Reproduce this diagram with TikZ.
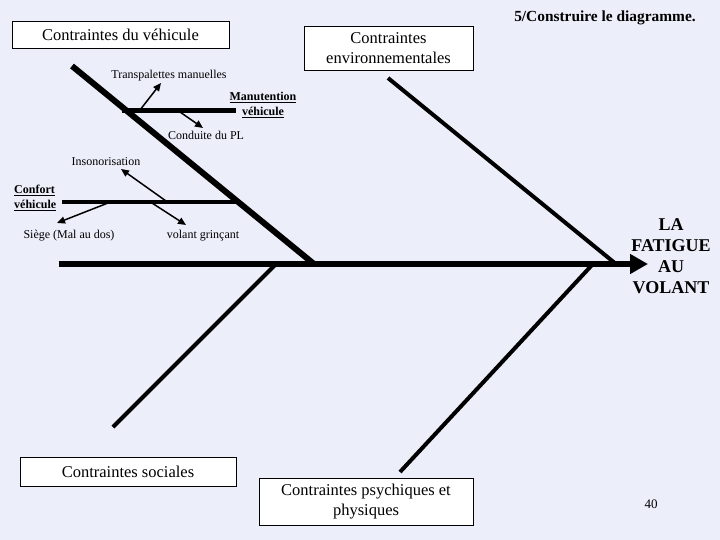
\documentclass[tikz,border=0pt]{standalone}
\usepackage{fontspec}
\setmainfont{Liberation Serif}
\usetikzlibrary{arrows.meta,positioning}
\definecolor{slidebg}{RGB}{236,238,250}
\newcommand{\ul}[1]{\underline{\textbf{#1}}}

\begin{document}
\begin{tikzpicture}[x=1pt,y=-1pt,
    every node/.style={font=\fontsize{12}{15}\selectfont,inner sep=0pt},
    catbox/.style={draw,fill=white,line width=0.8pt,align=center,font=\fontsize{16.5}{20}\selectfont},
    bone/.style={line width=4pt},
    cause/.style={-{Triangle[length=8pt,width=7pt]},line width=1.5pt}]
        \useasboundingbox[fill=slidebg] (0,0) rectangle (720,540);
        % categories
        \node[catbox,minimum width=217pt,minimum height=27pt] (vehic) at (120.5,34.5) {Contraintes du véhicule};
        \node[catbox,minimum width=169pt,minimum height=44pt] (envir) at (388.5,48) {Contraintes\\environnementales};
        \node[catbox,minimum width=216pt,minimum height=29pt] (socia) at (128,471.5) {Contraintes sociales};
        \node[catbox,minimum width=214pt,minimum height=47pt] (psych) at (366,501.5) {Contraintes psychiques et\\physiques};
        \node[font=\bfseries\fontsize{15.4}{17}\selectfont] (titre) at (605,18) {5/Construire le diagramme.};
        \node[font=\bfseries\fontsize{18}{21}\selectfont,align=center] (fatigue) at (671,256) {LA\\FATIGUE\\AU\\VOLANT};
        \node[font=\fontsize{13}{15}\selectfont] (page) at (651,504) {40};
        % spine and bones
        \coordinate (tail) at (59,264);
        \coordinate (head) at (648,264);
        \draw[line width=6pt,-{Triangle[length=18pt,width=19pt]}] (tail) -- (head);
        \foreach \n/\a/\b/\c/\d/\w in {vh/72/66/314/264/6pt, en/388/78/616/264/4pt, so/113/427/275/265/4pt, ps/400/472/592/265/4pt} {
          \coordinate (\n top) at (\a,\b);
          \coordinate (\n foot) at (\c,\d);
          \draw[line width=\w] (\n top) -- (\n foot);
        }
        % sub-causes
        \node (transp) at (169,76) {Transpalettes manuelles};
        \node[align=center] (manut) at (263,105) {\ul{Manutention}\\\ul{véhicule}};
        \node (condu) at (206,135) {Conduite du PL};
        \node (inson) at (106,162) {Insonorisation};
        \node[align=left,anchor=west] (confo) at (14,198) {\ul{Confort}\\\ul{véhicule}};
        \node (siege) at (69,236) {Siège (Mal au dos)};
        \node (volant) at (203,236) {volant grinçant};
        \coordinate (manA) at (122,111);
        \coordinate (manB) at (236,111);
        \coordinate (conA) at (62,202);
        \coordinate (conB) at (240,202);
        \draw[line width=5pt] (manA) -- (manB);
        \draw[bone] (conA) -- (conB);
        \draw[cause] (140,110) -- (161,83);
        \draw[cause] (180,112) -- (203,128);
        \draw[cause] (166,201) -- (121,169);
        \draw[cause] (108,203) -- (57,223);
        \draw[cause] (152,203) -- (186,225);
      \end{tikzpicture}
\end{document}
